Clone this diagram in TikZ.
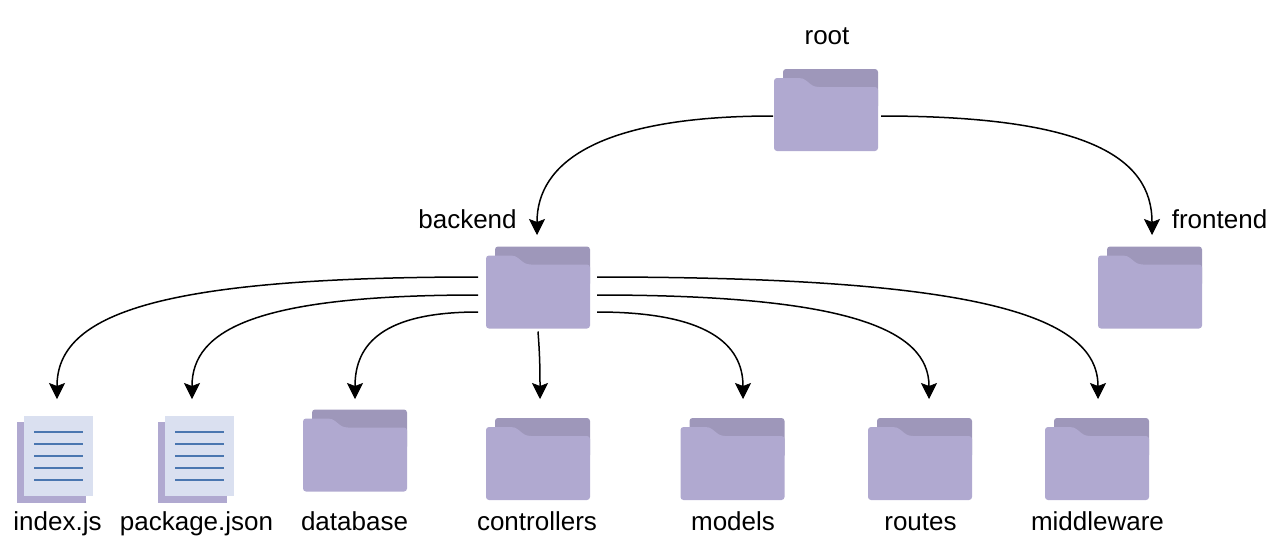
\documentclass[tikz,border=0pt]{standalone}
\usepackage{fontspec}
\setmainfont{Liberation Sans}
\usetikzlibrary{arrows.meta}
\definecolor{folderback}{HTML}{9E97BA}
\definecolor{folderfront}{HTML}{B0A9D0}
\definecolor{pagefill}{HTML}{DAE0F0}
\definecolor{pageline}{HTML}{4A76B0}
\tikzset{
  x=1pt,y=-1pt,
  folderbox/.style={minimum width=104pt,minimum height=82pt,inner sep=0pt,outer sep=0pt},
  filebox/.style={minimum width=76pt,minimum height=87pt,inner sep=0pt,outer sep=0pt},
  lbl/.style={font=\fontsize{26}{30}\selectfont,anchor=base,inner sep=0pt,text=black},
  link/.style={draw=black,line width=1.5pt,-{Stealth[length=16pt,width=16pt,inset=3pt,line width=0.6pt]}},
  pics/folderpic/.style={code={
    \fill[folderback,rounded corners=3pt] (9,0) -- (104,0) -- (104,40) -- (9,40) -- cycle;
    \fill[folderfront,rounded corners=3pt] (0,82) -- (0,9) -- (27,9) -- (31,10.5) -- (38,16.5) -- (42,18) -- (104,18) -- (104,82) -- cycle;
  }},
  pics/filepic/.style={code={
    \fill[folderfront] (0,6.5) rectangle (69,87);
    \fill[pagefill] (7,0) rectangle (76,80.5);
    \foreach \yy in {16,28,40,52,64}
      \fill[pageline] (17,\yy-1) rectangle (66,\yy+1);
  }}
}
\newcommand{\folderat}[3]{%
  \pic at (#2,#3) {folderpic};
  \node[folderbox] (#1) at (#2+52,#3+41) {};
}
\newcommand{\fileat}[3]{%
  \pic at (#2,#3) {filepic};
  \node[filebox] (#1) at (#2+38,#3+43.5) {};
}
\begin{document}
\begin{tikzpicture}
\useasboundingbox (0,0) rectangle (1287,547);
\folderat{root}{774}{69}
\folderat{backend}{486}{246.5}
\folderat{frontend}{1098}{246.5}
\folderat{database}{303}{409.5}
\folderat{controllers}{486}{418}
\folderat{models}{680.5}{418}
\folderat{routes}{868}{418}
\folderat{middleware}{1045}{418}
\fileat{indexjs}{17}{415.5}
\fileat{packagejson}{157.5}{415.5}

\node[lbl] (lroot) at (827,44) {root};
\node[lbl] (lbackend) at (467.5,228) {backend};
\node[lbl] (lfrontend) at (1219.5,228) {frontend};
\node[lbl] (lindex) at (57.5,530) {index.js};
\node[lbl] (lpackage) at (196.5,530) {package.json};
\node[lbl] (ldatabase) at (354.5,530) {database};
\node[lbl] (lcontrollers) at (537,530) {controllers};
\node[lbl] (lmodels) at (733,530) {models};
\node[lbl] (lroutes) at (920.5,530) {routes};
\node[lbl] (lmiddleware) at (1097.5,530) {middleware};

\coordinate (tbackend) at (537,235);
\coordinate (tfrontend) at (1152,235);
\coordinate (tindex) at (57,399);
\coordinate (tpackage) at (192,399);
\coordinate (tdatabase) at (355,399);
\coordinate (tcontrollers) at (540,399);
\coordinate (tmodels) at (743,399);
\coordinate (troutes) at (929,399);
\coordinate (tmiddleware) at (1098,399);

\draw[link] ([shift={(-1,6)}]root.west) .. controls +(-175,0) and +(0,-72) .. (tbackend);
\draw[link] ([shift={(3,6)}]root.east) .. controls +(205,0) and +(0,-78) .. (tfrontend);

\draw[link] ([shift={(-8,-10.5)}]backend.west) .. controls +(-320,0) and +(0,-85) .. (tindex);
\draw[link] ([shift={(-8,7.5)}]backend.west) .. controls +(-220,0) and +(0,-70) .. (tpackage);
\draw[link] ([shift={(-8,24.5)}]backend.west) .. controls +(-95,0) and +(0,-55) .. (tdatabase);
\draw[link] ([shift={(0,3)}]backend.south) .. controls +(1.5,20) and +(0,-35) .. (tcontrollers);
\draw[link] ([shift={(7,24.5)}]backend.east) .. controls +(110,0) and +(0,-55) .. (tmodels);
\draw[link] ([shift={(7,7.5)}]backend.east) .. controls +(250,0) and +(0,-70) .. (troutes);
\draw[link] ([shift={(7,-10.5)}]backend.east) .. controls +(375,0) and +(0,-85) .. (tmiddleware);
\end{tikzpicture}
\end{document}
